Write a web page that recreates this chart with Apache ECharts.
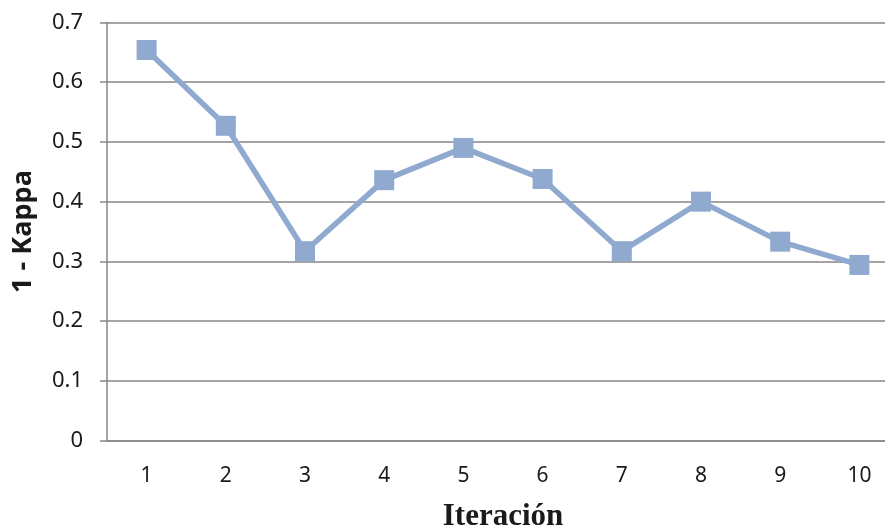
<!DOCTYPE html>
<html>
<head>
<meta charset="utf-8">
<script src="https://cdn.jsdelivr.net/npm/echarts@6/dist/echarts.min.js"></script>
<style>
  html, body { margin: 0; padding: 0; background: #ffffff; }
  #chart { width: 885px; height: 532px; }
</style>
</head>
<body>
<div id="chart"></div>
<script>
// Iteration numbers on the category axis
const iterations = ['1', '2', '3', '4', '5', '6', '7', '8', '9', '10'];
// 1 - Kappa value per iteration
const oneMinusKappa = [0.654, 0.527, 0.317, 0.436, 0.490, 0.438, 0.317, 0.400, 0.333, 0.294];

const axisGrey = '#868686';
const lineBlue = '#8FA9CF';

const chart = echarts.init(document.getElementById('chart'), null, { renderer: 'canvas' });

chart.setOption({
  animation: false,
  backgroundColor: '#ffffff',
  grid: {
    left: 107, top: 22.5, width: 792, height: 418,
    containLabel: false,
    outerBoundsMode: 'none'
  },
  xAxis: {
    type: 'category',
    data: iterations,
    boundaryGap: true,
    name: 'Iteración',
    nameLocation: 'middle',
    nameGap: 61,
    nameTextStyle: {
      fontFamily: 'Liberation Serif',
      fontWeight: 'bold',
      fontSize: 31,
      color: '#1a1a1a'
    },
    axisLine: { show: true, lineStyle: { color: axisGrey, width: 1.5 } },
    axisTick: { show: false },
    axisLabel: {
      margin: 25,
      fontFamily: 'Noto Sans',
      fontSize: 21,
      color: '#1a1a1a'
    },
    splitLine: { show: false }
  },
  yAxis: {
    type: 'value',
    min: 0,
    max: 0.7,
    interval: 0.1,
    name: '1 - Kappa',
    nameLocation: 'middle',
    nameGap: 70,
    nameRotate: 90,
    nameTextStyle: {
      fontFamily: 'Open Sans',
      fontWeight: 'bold',
      fontSize: 27,
      color: '#1a1a1a'
    },
    axisLine: { show: true, lineStyle: { color: axisGrey, width: 1.5 } },
    axisTick: { show: true, length: 7, inside: false, lineStyle: { color: axisGrey, width: 1.5 } },
    axisLabel: {
      margin: 24,
      fontFamily: 'Noto Sans',
      fontSize: 22,
      color: '#1a1a1a',
      formatter: v => (Math.round(v * 10) / 10).toString()
    },
    splitLine: { show: true, lineStyle: { color: axisGrey, width: 1.5 } }
  },
  series: [{
    type: 'line',
    data: oneMinusKappa,
    symbol: 'rect',
    symbolSize: 20,
    lineStyle: { color: lineBlue, width: 5.5 },
    itemStyle: { color: lineBlue },
    z: 3
  }]
});
</script>
</body>
</html>
